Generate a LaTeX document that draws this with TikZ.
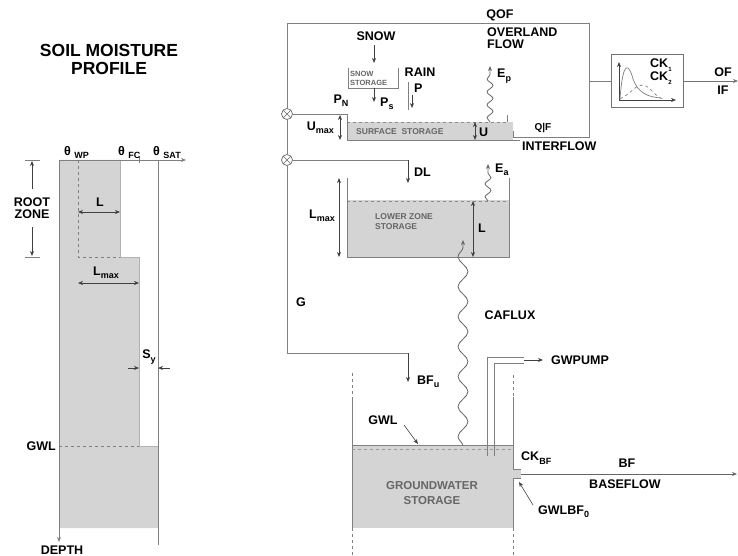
\documentclass[tikz,border=0pt]{standalone}
\usepackage{fontspec}
\setmainfont{Liberation Sans}
\usetikzlibrary{arrows.meta, positioning, decorations.pathmorphing}

\newcommand{\dn}[1]{\raisebox{-0.5ex}{\fontsize{9}{9}\selectfont #1}}

\begin{document}
\begin{tikzpicture}[
        x=1pt, y=-1pt,
        >={Stealth[length=5pt,width=4pt]},
        line/.style={draw=black!50, line width=0.8pt},
        arr/.style={draw=black!75, line width=0.7pt, ->},
        dbl/.style={draw=black!75, line width=0.6pt, <->},
        store/.style={fill=black!17, draw=none},
        lbl/.style={font=\fontsize{12.5}{14}\selectfont\bfseries, inner sep=1pt},
        small/.style={font=\fontsize{8.5}{10}\selectfont\bfseries, text=black!60, inner sep=0pt, align=left},
        wavy/.style={decorate, decoration={snake, amplitude=3pt, segment length=13pt, post length=5pt}},
        bigwave/.style={decorate, decoration={snake, amplitude=5pt, segment length=30pt, post length=6pt}},
        mix/.style={circle, draw=black!60, line width=0.7pt, minimum size=11pt, inner sep=0pt,
            path picture={\draw[black!60, line width=0.6pt]
                (path picture bounding box.north west) -- (path picture bounding box.south east)
                (path picture bounding box.north east) -- (path picture bounding box.south west);}}
    ]
    \useasboundingbox (0,0) rectangle (738,556);

    % Soil moisture profile
    \node[font=\fontsize{17.5}{18}\selectfont\bfseries, align=center] (title) at (109,59) {SOIL MOISTURE\\[0pt]PROFILE};
    \fill[store] (59,160) -- (120,160) -- (120,257) -- (139,257) -- (139,446) -- (158,446) -- (158,528) -- (59,528) -- cycle;
    \draw[line, draw=black!30] (120,160) -- (120,257) -- (139,257) -- (139,446) -- (158,446);
    \draw[line, dashed] (78,160) -- (78,257) -- (120,257);
    \draw[line, dashed] (59,446) -- (139,446);
    \draw[line] (158,160) -- (158,545);
    \draw[line] (139,157) -- (139,163);
    \draw[arr, draw=black!50] (59,160) -- (186,160);
    \draw[arr, draw=black!50] (59,160) -- (59,542);
    \node[lbl, anchor=south west] (twp) at (63,160) {θ \dn{WP}};
    \node[lbl, anchor=south west] (tfc) at (117,160) {θ \dn{FC}};
    \node[lbl, anchor=south west] (tsat) at (152,160) {θ \dn{SAT}};
    \draw[dbl] (78,212) -- (120,212);
    \node[lbl] (llbl) at (100,202) {L};
    \draw[dbl] (78,283) -- (139,283);
    \node[lbl] (lmaxlbl) at (106,273) {L\dn{max}};
    \draw[arr] (128,368) -- (139,368);
    \draw[arr] (170,368) -- (158,368);
    \node[lbl] (sylbl) at (149,357) {S\dn{y}};
    \node[lbl, anchor=east] (gwlleft) at (57,446) {GWL};
    \node[lbl] (depth) at (62,550) {DEPTH};
    % root zone
    \draw[line] (25,160) -- (40,160) (25,257) -- (40,257);
    \draw[arr] (32,189) -- (32,161);
    \draw[arr] (32,227) -- (32,256);
    \node[lbl, align=center] (root) at (32,208) {ROOT\\[-2pt]ZONE};

    % Overland flow loop
    \node[mix] (mixA) at (287,114) {};
    \node[mix] (mixB) at (287,160) {};
    \draw[line] (mixA) -- (287,23) -- (589,23) -- (589,137) -- (513,137) -- (513,131) -- (507,131) -- (507,115);
    \draw[line] (mixA) -- (mixB);
    \node[lbl] (qof) at (500,15) {QOF};
    \node[lbl, anchor=west, align=left] (olf) at (486,38) {OVERLAND\\[-2pt]FLOW};

    % Snow and rain
    \node[lbl] (snow) at (376,36) {SNOW};
    \draw[arr] (374,45) -- (374,63);
    \draw[line, line width=0.6pt] (348,68) -- (348,88) -- (398,88) -- (398,68);
    \node[small, anchor=west, font=\fontsize{7.5}{9}\selectfont\bfseries] (snowst) at (350,78) {SNOW\\STORAGE};
    \draw[arr] (374,88) -- (374,102);
    \node[lbl, anchor=west] (ps) at (379,104) {P\dn{s}};
    \node[lbl] (rain) at (420,72) {RAIN};
    \draw[line] (408,82) -- (408,110);
    \draw[arr] (412,95) -- (412,108);
    \node[lbl, anchor=west] (plbl) at (413,88) {P};
    \node[lbl] (pn) at (341,101) {P\dn{N}};

    % Surface storage
    \fill[store] (347,122) rectangle (513,140);
    \draw[line, dashed, draw=black!45] (347,122) -- (507,122);
    \draw[line] (mixA) -- (347,114) -- (347,140) -- (520,140);
    \draw[dbl] (340,115) -- (340,140);
    \node[lbl, anchor=east] (umax) at (335,128) {U\dn{max}};
    \node[small, anchor=west] (surf) at (356,132) {SURFACE\ \ STORAGE};
    \draw[dbl] (475,122) -- (475,140);
    \node[lbl, anchor=west] (ulbl) at (478,132) {U};
    \draw[line, wavy, ->, draw=black!60] (490,122) -- (490,66);
    \node[lbl, anchor=west] (ep) at (496,76) {E\dn{p}};
    \node[font=\fontsize{10}{11}\selectfont\bfseries] (qif) at (543,128) {Q|F};
    \node[lbl, anchor=west] (intf) at (521,146) {INTERFLOW};

    % Routing box
    \node[draw=black!55, line width=0.8pt, minimum width=72pt, minimum height=53pt] (ckbox) at (647,81) {};
    \draw[line] (589,81) -- (ckbox.west);
    \draw[arr, draw=black!55] (ckbox.east) -- (738,81);
    \draw[arr, line width=0.6pt] (619,100) -- (619,62);
    \draw[arr, line width=0.6pt] (619,100) -- (676,100);
    \draw[line, line width=0.7pt] (620,99) .. controls (623,58) and (629,64) .. (633,79) .. controls (638,93) and (648,97) .. (661,98);
    \draw[line, dashed, line width=0.7pt] (620,99) .. controls (632,93) and (636,84) .. (643,85) .. controls (650,86) and (655,97) .. (663,99);
    \node[lbl, anchor=west] (ck1) at (649,65) {CK\dn{\fontsize{6}{6}\selectfont 1}};
    \node[lbl, anchor=west] (ck2) at (649,78) {CK\dn{\fontsize{6}{6}\selectfont 2}};
    \node[lbl] (oflbl) at (723,72) {OF};
    \node[lbl] (iflbl) at (723,90) {IF};

    % Lower zone storage
    \draw[line] (mixB) -- (408,160);
    \draw[arr] (408,160) -- (408,183);
    \node[lbl, anchor=west] (dl) at (413,172) {DL};
    \fill[store] (347,200) rectangle (509,257);
    \draw[line, dashed, draw=black!45] (347,201) -- (509,201);
    \draw[line] (347,178) -- (347,257) -- (509,257) -- (509,178);
    \draw[dbl] (339,178) -- (339,257);
    \node[lbl, anchor=east] (lmax) at (336,216) {L\dn{max}};
    \node[small, anchor=west] (lzs) at (375,222) {LOWER ZONE\\STORAGE};
    \draw[dbl] (473,201) -- (473,257);
    \node[lbl, anchor=west] (lz) at (477,228) {L};
    \draw[line, wavy, ->, draw=black!60] (488,201) -- (488,164);
    \node[lbl, anchor=west] (ea) at (494,170) {E\dn{a}};

    % Percolation to groundwater
    \draw[line] (mixB) -- (287,353) -- (408,353);
    \draw[arr] (408,353) -- (408,382);
    \node[lbl, anchor=west] (bfu) at (416,382) {BF\dn{u}};
    \node[lbl] (glbl) at (301,302) {G};
    \draw[line, bigwave, ->, draw=black!60] (463,446) -- (463,240);
    \node[lbl] (caflux) at (510,315) {CAFLUX};

    % Groundwater storage
    \fill[store] (352,446) rectangle (513,528);
    \fill[store] (513,469) rectangle (521,478);
    \draw[line] (352,397) -- (352,528);
    \draw[line] (513,397) -- (513,469) -- (521,469) (521,478) -- (513,478) -- (513,528);
    \draw[line, dashed] (352,373) -- (352,397) (352,528) -- (352,556);
    \draw[line, dashed] (513,375) -- (513,397) (513,528) -- (513,556);
    \draw[line] (352,445) -- (513,445);
    \draw[line, dashed, draw=black!40] (352,449) -- (513,449);
    \node[lbl] (gwl) at (383,420) {GWL};
    \draw[arr, line width=0.6pt] (404,425) -- (418,444);
    \node[font=\fontsize{11.5}{15}\selectfont\bfseries, text=black!60, align=center] (gws) at (432,493) {GROUNDWATER\\STORAGE};
    % pump
    \draw[line] (487,456) -- (487,357) -- (524,357);
    \draw[line] (494,456) -- (494,363) -- (524,363);
    \draw[arr] (524,360) -- (543,360);
    \node[lbl, anchor=west] (pump) at (550,360) {GWPUMP};
    % baseflow
    \draw[arr, draw=black!60] (521,474) -- (737,474);
    \node[lbl, anchor=west] (ckbf) at (520,458) {CK\dn{BF}};
    \node[lbl] (bf) at (627,463) {BF};
    \node[lbl] (basef) at (625,484) {BASEFLOW};
    \node[lbl, anchor=west] (gwlbf) at (537,512) {GWLBF\dn{0}};
    \draw[arr, line width=0.6pt] (533,505) -- (519,482);
\end{tikzpicture}
\end{document}
